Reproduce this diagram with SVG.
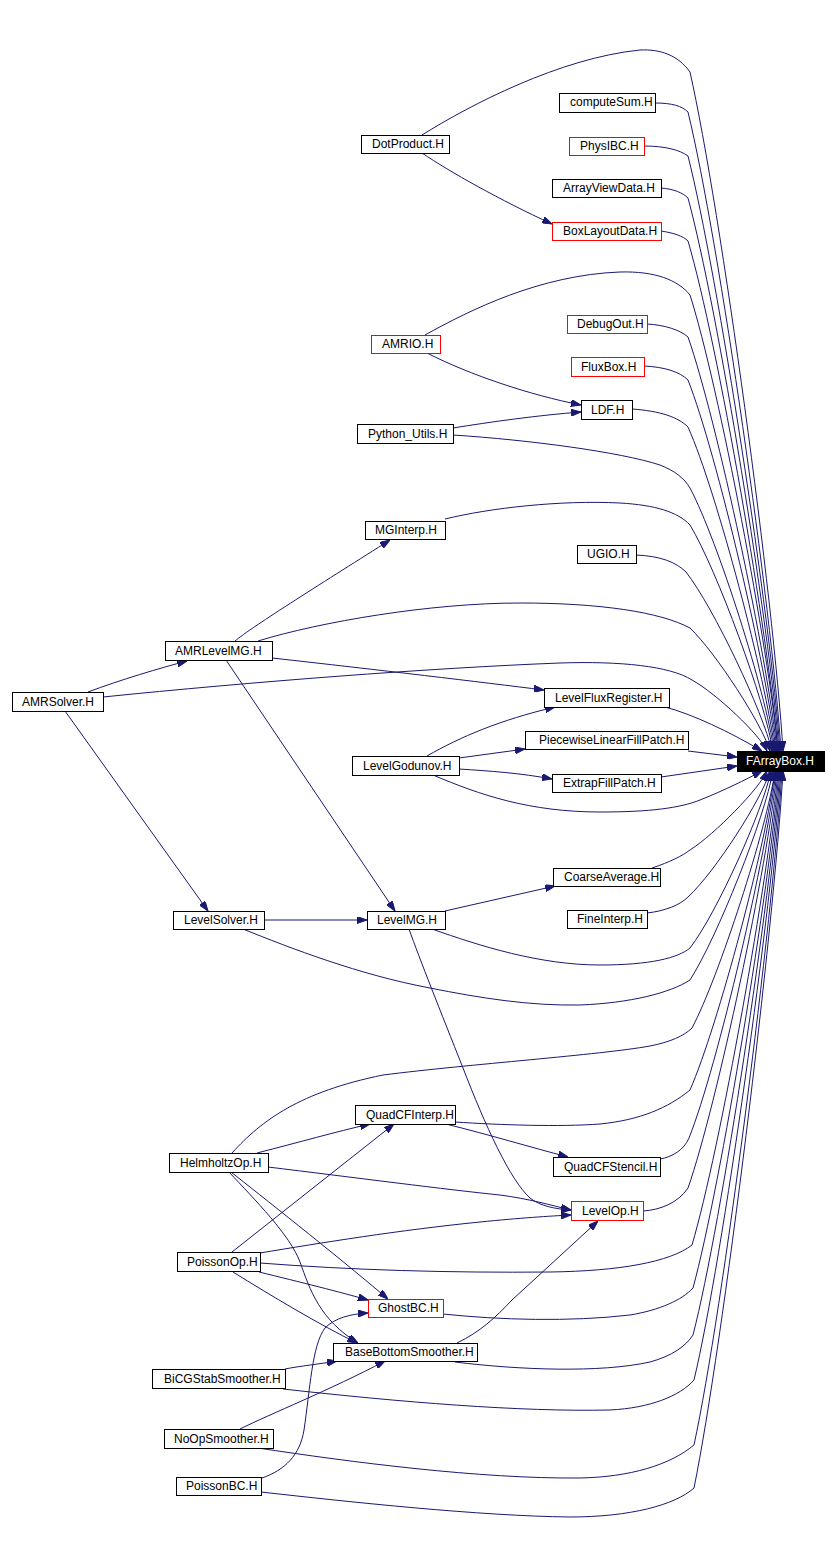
<svg xmlns="http://www.w3.org/2000/svg" width="837" height="1542" viewBox="0 0 837 1542">
<defs>
<style>
.n rect{fill:#fff;stroke:#000;stroke-width:1}
.n.r rect{stroke:#ff0000}
.n text{font-family:"Liberation Sans",Arial,sans-serif;font-size:12px;fill:#000}
.n.f rect{fill:#000;stroke:#000}
.n.f text{fill:#fff}
#edges path{fill:none;stroke:#191970;stroke-width:1;marker-end:url(#ah)}
</style>
<marker id="ah" viewBox="0 0 10 7" markerUnits="userSpaceOnUse" markerWidth="10" markerHeight="7" refX="10" refY="3.5" orient="auto">
<path d="M0,0 L10,3.5 L0,7 z" fill="#191970" stroke="#191970" stroke-width="1"/>
</marker>
</defs>
<rect width="837" height="1542" fill="#fff"/>
<g id="edges">
<path d="M422,135 C470,105 560,58 640,50 C660,49 678,55 690,72 C721,210 774,602 783,751"/>
<path d="M655,103 C672,103 682,106 688,112 C719,240 772,610 781,751"/>
<path d="M644,146 C665,146 680,150 688,156 C718,275 771,620 780,751"/>
<path d="M661,188 C674,189 683,193 688,198 C718,309 770,629 779,751"/>
<path d="M661,231 C674,233 683,236 688,241 C718,343 769,639 778,751"/>
<path d="M425,335 C470,310 540,275 620,272 C655,271 678,280 690,295 C719,386 769,651 778,751"/>
<path d="M647,324 C665,325 680,330 688,337 C717,420 768,660 777,751"/>
<path d="M644,366 C665,367 680,372 688,380 C717,454 767,669 776,751"/>
<path d="M632,409 C660,411 678,417 688,427 C717,492 766,680 775,751"/>
<path d="M453,435 C530,440 620,452 660,465 C675,471 684,478 690,488 C718,541 766,693 774,751"/>
<path d="M445,519 C490,508 560,500 620,503 C655,505 678,512 690,525 C717,570 765,701 773,751"/>
<path d="M636,555 C660,556 676,562 686,572 C714,608 763,712 772,751"/>
<path d="M258,641 C320,622 430,603 520,603 C600,603 660,612 690,628 C716,653 762,724 770,751"/>
<path d="M103,697 C250,682 430,668 560,663 C620,661 670,666 692,680 C717,694 760,735 767,751"/>
<path d="M665,707 C692,714 730,732 762,751"/>
<path d="M688,751 L737,757"/>
<path d="M661,777 L737,766"/>
<path d="M433,775 C480,795 530,812 600,812 C650,812 680,808 700,800 C725,790 745,780 762,771"/>
<path d="M652,868 C670,862 682,856 690,850 C715,834 759,789 767,771"/>
<path d="M647,913 C665,911 680,905 688,897 C715,872 762,799 770,771"/>
<path d="M432,929 C480,946 540,965 600,965 C650,965 678,958 690,948 C717,913 763,810 771,771"/>
<path d="M243,929 C290,948 360,975 430,988 C480,998 530,1006 580,1005 C630,1003 670,993 690,980 C717,938 765,817 773,771"/>
<path d="M232,1153 C262,1120 300,1092 383,1075 C470,1064 600,1055 650,1046 C670,1042 684,1036 692,1028 C719,977 767,828 775,771"/>
<path d="M455,1122 C500,1125 560,1127 600,1124 C640,1120 668,1108 690,1090 C718,1026 767,841 775,771"/>
<path d="M660,1159 C672,1157 684,1150 689,1138 C718,1065 767,852 776,771"/>
<path d="M643,1211 C660,1210 678,1203 688,1188 C717,1105 768,863 777,771"/>
<path d="M260,1263 C350,1270 450,1273 550,1272 C620,1271 670,1262 692,1245 C720,1150 769,875 778,771"/>
<path d="M443,1314 C500,1320 570,1322 630,1315 C660,1310 682,1300 693,1288 C721,1185 770,885 779,771"/>
<path d="M455,1362 C520,1370 600,1373 650,1362 C672,1356 686,1346 693,1335 C722,1222 771,895 780,771"/>
<path d="M283,1389 C400,1402 520,1412 610,1410 C650,1408 680,1396 694,1380 C723,1258 772,905 781,771"/>
<path d="M258,1448 C350,1462 480,1479 580,1478 C630,1477 670,1465 694,1445 C723,1310 773,919 782,771"/>
<path d="M261,1492 C350,1502 480,1516 570,1517 C630,1517 675,1505 694,1488 C723,1345 774,930 783,771"/>
<path d="M422,153 C450,172 500,200 552,224"/>
<path d="M427,353 C470,375 530,395 581,405"/>
<path d="M453,428 C490,422 540,415 581,412"/>
<path d="M235,641 C250,628 330,578 390,540"/>
<path d="M88,692 C120,680 160,668 187,661"/>
<path d="M65,711 L208,911"/>
<path d="M272,658 C380,670 480,682 544,690"/>
<path d="M226,660 L395,911"/>
<path d="M264,920 L367,920"/>
<path d="M445,911 C480,903 520,894 555,886"/>
<path d="M409,929 C420,960 440,1010 463,1068 C485,1125 510,1180 530,1198 C540,1206 555,1209 571,1210"/>
<path d="M427,756 C460,737 500,720 555,707"/>
<path d="M459,758 L525,749"/>
<path d="M459,769 C490,771 520,773 552,779"/>
<path d="M257,1153 C300,1142 335,1132 370,1124"/>
<path d="M232,1252 L394,1124"/>
<path d="M268,1167 C350,1177 450,1190 500,1195 C530,1199 550,1205 571,1210"/>
<path d="M260,1253 C320,1243 400,1230 480,1222 C520,1218 550,1216 571,1215"/>
<path d="M231,1172 C260,1195 330,1250 388,1299"/>
<path d="M229,1172 C255,1200 290,1235 300,1262 C310,1290 320,1320 358,1343"/>
<path d="M259,1272 C300,1282 340,1292 368,1300"/>
<path d="M233,1272 C270,1295 320,1325 357,1343"/>
<path d="M262,1478 C285,1470 300,1455 304,1430 C310,1390 312,1345 325,1328 C335,1318 350,1314 368,1313"/>
<path d="M285,1369 C300,1366 320,1364 337,1361"/>
<path d="M240,1429 C270,1414 330,1390 385,1361"/>
<path d="M457,1343 C480,1332 495,1318 512,1300 L598,1221"/>
<path d="M446,1124 C490,1135 530,1147 568,1157"/>
</g>
<g id="computeSum" class="n"><rect x="559.5" y="93.5" width="96" height="19"/><text x="570" y="106">computeSum.H</text></g>
<g id="PhysIBC" class="n r"><rect x="569.5" y="137.5" width="75" height="18"/><text x="580" y="150">PhysIBC.H</text></g>
<g id="ArrayViewData" class="n"><rect x="552.5" y="179.5" width="109" height="18"/><text x="563" y="192">ArrayViewData.H</text></g>
<g id="BoxLayoutData" class="n r"><rect x="552.5" y="222.5" width="109" height="18"/><text x="563" y="235">BoxLayoutData.H</text></g>
<g id="DotProduct" class="n"><rect x="361.5" y="135.5" width="88" height="18"/><text x="372" y="148">DotProduct.H</text></g>
<g id="DebugOut" class="n r"><rect x="567.5" y="315.5" width="80" height="18"/><text x="577" y="328">DebugOut.H</text></g>
<g id="FluxBox" class="n r"><rect x="571.5" y="357.5" width="73" height="19"/><text x="581" y="371">FluxBox.H</text></g>
<g id="LDF" class="n"><rect x="581.5" y="400.5" width="51" height="19"/><text x="591" y="414">LDF.H</text></g>
<g id="AMRIO" class="n r"><rect x="371.5" y="335.5" width="69" height="18"/><text x="382" y="348">AMRIO.H</text></g>
<g id="Python_Utils" class="n"><rect x="357.5" y="424.5" width="96" height="19"/><text x="368" y="438">Python_Utils.H</text></g>
<g id="MGInterp" class="n"><rect x="365.5" y="521.5" width="80" height="18"/><text x="375" y="534">MGInterp.H</text></g>
<g id="UGIO" class="n"><rect x="577.5" y="545.5" width="59" height="18"/><text x="587" y="558">UGIO.H</text></g>
<g id="AMRLevelMG" class="n"><rect x="165.5" y="641.5" width="107" height="19"/><text x="175" y="655">AMRLevelMG.H</text></g>
<g id="AMRSolver" class="n"><rect x="12.5" y="692.5" width="91" height="19"/><text x="22" y="706">AMRSolver.H</text></g>
<g id="LevelFluxRegister" class="n"><rect x="544.5" y="688.5" width="125" height="19"/><text x="555" y="702">LevelFluxRegister.H</text></g>
<g id="PiecewiseLinearFillPatch" class="n"><rect x="525.5" y="731.5" width="163" height="18"/><text x="539" y="744">PiecewiseLinearFillPatch.H</text></g>
<g id="LevelGodunov" class="n"><rect x="352.5" y="756.5" width="107" height="19"/><text x="363" y="770">LevelGodunov.H</text></g>
<g id="ExtrapFillPatch" class="n"><rect x="552.5" y="774.5" width="109" height="18"/><text x="563" y="787">ExtrapFillPatch.H</text></g>
<g id="FArrayBox" class="n f"><rect x="737.5" y="751.5" width="87" height="20"/><text x="746" y="765">FArrayBox.H</text></g>
<g id="CoarseAverage" class="n"><rect x="553.5" y="868.5" width="107" height="18"/><text x="564" y="881">CoarseAverage.H</text></g>
<g id="FineInterp" class="n"><rect x="567.5" y="910.5" width="80" height="18"/><text x="577" y="923">FineInterp.H</text></g>
<g id="LevelSolver" class="n"><rect x="173.5" y="911.5" width="91" height="18"/><text x="184" y="924">LevelSolver.H</text></g>
<g id="LevelMG" class="n"><rect x="367.5" y="911.5" width="78" height="18"/><text x="377" y="924">LevelMG.H</text></g>
<g id="QuadCFInterp" class="n"><rect x="355.5" y="1105.5" width="100" height="19"/><text x="366" y="1119">QuadCFInterp.H</text></g>
<g id="HelmholtzOp" class="n"><rect x="169.5" y="1153.5" width="99" height="19"/><text x="180" y="1167">HelmholtzOp.H</text></g>
<g id="QuadCFStencil" class="n"><rect x="553.5" y="1157.5" width="107" height="19"/><text x="564" y="1171">QuadCFStencil.H</text></g>
<g id="LevelOp" class="n r"><rect x="571.5" y="1201.5" width="72" height="19"/><text x="582" y="1215">LevelOp.H</text></g>
<g id="PoissonOp" class="n"><rect x="177.5" y="1252.5" width="83" height="19"/><text x="187" y="1266">PoissonOp.H</text></g>
<g id="GhostBC" class="n r"><rect x="368.5" y="1299.5" width="75" height="18"/><text x="378" y="1312">GhostBC.H</text></g>
<g id="BaseBottomSmoother" class="n"><rect x="333.5" y="1343.5" width="144" height="18"/><text x="345" y="1356">BaseBottomSmoother.H</text></g>
<g id="BiCGStabSmoother" class="n"><rect x="152.5" y="1369.5" width="133" height="19"/><text x="164" y="1383">BiCGStabSmoother.H</text></g>
<g id="NoOpSmoother" class="n"><rect x="164.5" y="1429.5" width="109" height="19"/><text x="174" y="1443">NoOpSmoother.H</text></g>
<g id="PoissonBC" class="n"><rect x="176.5" y="1477.5" width="85" height="18"/><text x="186" y="1490">PoissonBC.H</text></g>
</svg>
